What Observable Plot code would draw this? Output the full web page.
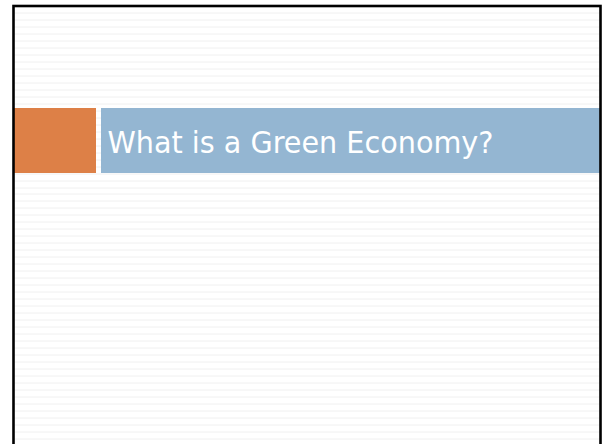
<!DOCTYPE html>
<html>
<head>
<meta charset="utf-8">
<script src="https://cdn.jsdelivr.net/npm/d3@7"></script>
<script src="https://cdn.jsdelivr.net/npm/@observablehq/plot@0.6"></script>
<style>
  html, body { margin: 0; padding: 0; background: #ffffff; }
  #chart svg { display: block; }
</style>
</head>
<body>
<div id="chart"></div>
<script>
// Slide content (pixel coordinates of the 602x444 slide view)
const titleText = ["What is a Green Economy?"];
const blockNames = ["accent", "titleBar"];
const blockX1 = [14, 101];
const blockX2 = [96, 601];
const blockY1 = [108, 108];
const blockY2 = [173, 173];
const blockColors = ["#DD8047", "#94B6D2"];
const frameBox = [{x1: 13.5, x2: 600.5, y1: 6, y2: 470}];
const stripeStart = 12, stripeStep = 6.98, stripeEnd = 444;

const blocks = blockNames.map((name, i) => ({
  name, x1: blockX1[i], x2: blockX2[i], y1: blockY1[i], y2: blockY2[i], color: blockColors[i]
}));
const stripes = d3.range(stripeStart, stripeEnd, stripeStep).map(y => ({y: Math.round(y) + 0.5}));
const titles = titleText.map(t => ({text: t, x: 107, y: 152.5}));

const chart = Plot.plot({
  width: 602,
  height: 444,
  margin: 0,
  style: {background: "#ffffff", overflow: "hidden"},
  x: {domain: [0, 602], range: [0, 602], axis: null},
  y: {domain: [0, 444], range: [0, 444], axis: null},
  marks: [
    Plot.ruleY(stripes, {y: "y", x1: 14, x2: 600, stroke: "#f0f0f0", strokeWidth: 1}),
    Plot.rect(blocks, {x1: "x1", x2: "x2", y1: "y1", y2: "y2", fill: "color"}),
    Plot.rect(frameBox, {x1: "x1", x2: "x2", y1: "y1", y2: "y2", fill: "none", stroke: "#000000", strokeWidth: 2.6}),
    Plot.text(titles, {
      x: "x", y: "y", text: "text", textAnchor: "start", lineAnchor: "bottom",
      fill: "#ffffff", fontSize: 30.5, fontFamily: "DejaVu Sans"
    })
  ]
});
document.getElementById("chart").appendChild(chart);

// Fit the title width to the slide's title width
chart.querySelectorAll("text").forEach(t => {
  if (t.textContent === titleText[0]) {
    t.setAttribute("textLength", 386);
    t.setAttribute("lengthAdjust", "spacingAndGlyphs");
  }
});
</script>
</body>
</html>
